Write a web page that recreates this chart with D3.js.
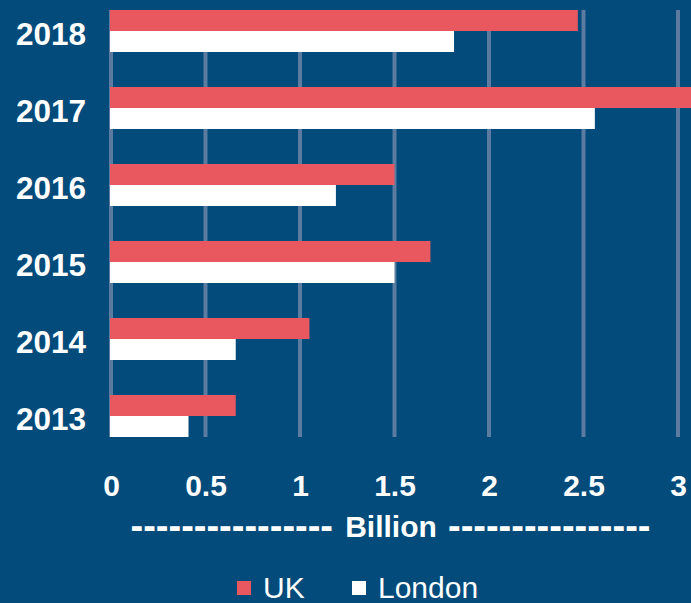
<!DOCTYPE html>
<html>
<head>
<meta charset="utf-8">
<script src="https://cdn.jsdelivr.net/npm/d3@7"></script>
<style>
  body { margin: 0; background: #024b7b; }
  svg { display: block; }
  text { font-family: "Liberation Sans", Arial, sans-serif; fill: #ffffff; }
</style>
</head>
<body>
<script>
// data
var years = ["2018", "2017", "2016", "2015", "2014", "2013"];
var series = ["UK", "London"];
var ukValues = [2.47, 3.1, 1.5, 1.69, 1.05, 0.66];
var londonValues = [1.815, 2.56, 1.19, 1.5, 0.66, 0.41];
var xTicks = [0, 0.5, 1, 1.5, 2, 2.5, 3];
var colors = ["#e9575f", "#ffffff"];

var width = 691;
var height = 603;

var svg = d3.select("body")
            .append("svg")
            .attr("width", width)
            .attr("height", height);

svg.append("rect")
   .attr("width", width)
   .attr("height", height)
   .attr("fill", "#024b7b");

var rows = years.map(function(y, i){
  return {year: y, UK: ukValues[i], London: londonValues[i]};
});

var xScale = d3.scaleLinear()
               .domain([0, 3])
               .range([111, 678]);

var yScale = d3.scaleBand()
               .domain(years)
               .range([10, 437])
               .paddingInner(35 / 77)
               .paddingOuter(0);

var subScale = d3.scaleBand()
                 .domain(series)
                 .range([0, yScale.bandwidth()]);

var color = d3.scaleOrdinal()
              .domain(series)
              .range(colors);

// gridlines
svg.append("g")
   .selectAll("line")
   .data(xTicks)
   .enter()
   .append("line")
   .attr("x1", function(d){ return xScale(d); })
   .attr("x2", function(d){ return xScale(d); })
   .attr("y1", yScale.range()[0])
   .attr("y2", yScale.range()[1])
   .attr("stroke", "#5b7ba1")
   .attr("stroke-width", 4);

// bars
var groups = svg.append("g")
                .selectAll("g")
                .data(rows)
                .enter()
                .append("g")
                .attr("transform", function(d){ return "translate(0," + yScale(d.year) + ")"; });

groups.selectAll("rect")
      .data(function(d){
        return series.map(function(s){ return {key: s, value: d[s]}; });
      })
      .enter()
      .append("rect")
      .attr("x", xScale(0) - 1)
      .attr("y", function(d){ return subScale(d.key); })
      .attr("width", function(d){ return xScale(d.value) - xScale(0) + 1; })
      .attr("height", subScale.bandwidth())
      .attr("fill", function(d){ return color(d.key); });

// y axis (years)
var yAxis = d3.axisLeft()
              .scale(yScale)
              .tickSize(0)
              .tickPadding(25);

var yG = svg.append("g")
            .attr("transform", "translate(" + xScale(0) + ",0)")
            .call(yAxis);
yG.select(".domain").remove();
yG.selectAll("text")
  .attr("dy", "0.45em")
  .style("font-size", "31.5px")
  .style("font-weight", "bold")
  .attr("fill", "#ffffff");

// x axis (values)
var xAxis = d3.axisBottom()
              .scale(xScale)
              .tickValues(xTicks)
              .tickFormat(d3.format(""))
              .tickSize(0)
              .tickPadding(0);

var xG = svg.append("g")
            .attr("transform", "translate(0,476)")
            .call(xAxis);
xG.select(".domain").remove();
xG.selectAll("text")
  .attr("dy", "0.68em")
  .style("font-size", "30px")
  .style("font-weight", "bold")
  .attr("fill", "#ffffff");

// axis title
var dashes = "----------------";
svg.append("text")
   .attr("x", 333)
   .attr("y", 539)
   .attr("text-anchor", "end")
   .style("font-size", "38px")
   .style("font-weight", "bold")
   .text(dashes);

svg.append("text")
   .attr("x", 391)
   .attr("y", 537)
   .attr("text-anchor", "middle")
   .style("font-size", "30px")
   .style("font-weight", "bold")
   .text("Billion");

svg.append("text")
   .attr("x", 448)
   .attr("y", 539)
   .style("font-size", "38px")
   .style("font-weight", "bold")
   .text(dashes);

// legend
var legendX = [237, 352];
var legend = svg.append("g")
                .selectAll("g")
                .data(series)
                .enter()
                .append("g")
                .attr("transform", function(d, i){ return "translate(" + legendX[i] + ",0)"; });

legend.append("rect")
      .attr("x", 0)
      .attr("y", 581)
      .attr("width", 14)
      .attr("height", 14)
      .attr("fill", function(d){ return color(d); });

legend.append("text")
      .attr("x", 26)
      .attr("y", 598)
      .style("font-size", "30px")
      .text(function(d){ return d; });
</script>
</body>
</html>
